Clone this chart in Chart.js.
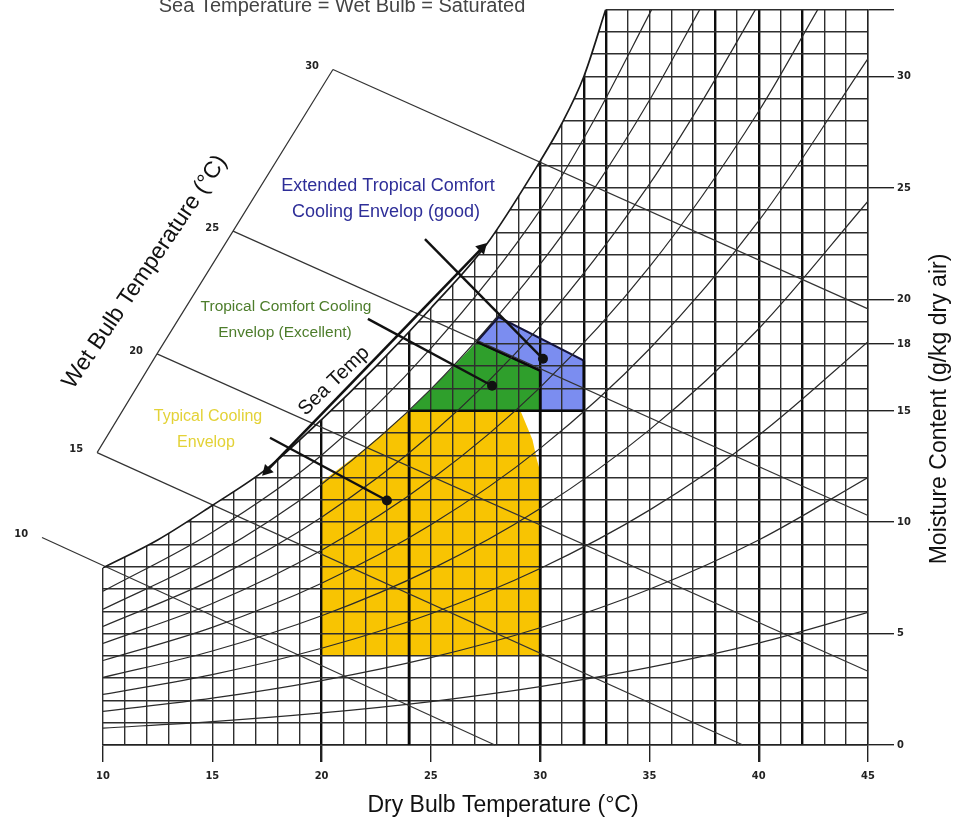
<!DOCTYPE html>
<html>
<head>
<meta charset="utf-8">
<script src="https://cdn.jsdelivr.net/npm/chart.js@4.4.1/dist/chart.umd.min.js"></script>
<style>
  html, body { margin: 0; padding: 0; background: #fff; }
  canvas { display: block; }
</style>
</head>
<body>
<canvas id="psy" width="956" height="828"></canvas>
<script>
// axis ticks
const dryBulbTicks = [10, 15, 20, 25, 30, 35, 40, 45];
const moistureTicks = [0, 5, 10, 15, 18, 20, 25, 30, 33];
const moistureLabels = [0, 5, 10, 15, 18, 20, 25, 30];
const heavyDryBulb = [20, 24, 30, 32, 33, 38, 40, 42];

// saturation curve (dry bulb °C, g/kg)
const satT = [10, 12.5, 15, 17.5, 20, 22.5, 25, 27.5, 30, 31, 32, 33];
const satW = [7.95, 9.2, 10.75, 12.4, 14.6, 17.0, 19.6, 22.4, 26.2, 27.9, 30.0, 33.0];

// relative humidity curves
const rhT = [10, 15, 20, 25, 30, 35, 40, 45];
const rh10W = [0.76, 1.05, 1.44, 1.95, 2.62, 3.48, 4.57, 5.95];
const rh20W = [1.51, 2.10, 2.89, 3.92, 5.26, 6.99, 9.20, 12.0];
const rh30W = [2.27, 3.16, 4.34, 5.89, 7.92, 10.54, 13.9, 18.1];
const rh40W = [3.03, 4.22, 5.80, 7.88, 10.61, 14.14, 18.68, 24.4];
const rh50W = [3.79, 5.28, 7.26, 9.88, 13.31, 17.77, 23.52, 30.8];
const rh60T = [10, 15, 20, 25, 30, 35, 40, 42.7];
const rh60W = [4.56, 6.35, 8.74, 11.9, 16.05, 21.45, 28.44, 33];
const rh70T = [10, 15, 20, 25, 30, 35, 37.5, 39.85];
const rh70W = [5.32, 7.42, 10.22, 13.93, 18.8, 25.17, 29.03, 33];
const rh80T = [10, 15, 20, 25, 30, 32.5, 35, 37.3];
const rh80W = [6.09, 8.49, 11.7, 15.97, 21.58, 25.0, 28.93, 33];
const rh90T = [10, 15, 20, 25, 30, 32.5, 35.1];
const rh90W = [6.9, 9.55, 13.0, 17.8, 24.0, 28.1, 33];

// wet bulb lines: start on the slanted wet bulb scale, end on the frame
const wbLabels = [10, 15, 20, 25, 30];
const wbStartT = [7.21, 9.73, 12.47, 15.95, 20.52];
const wbStartW = [9.31, 13.12, 17.55, 23.06, 30.31];
const wbEndT = [27.93, 39.28, 45, 45, 45];
const wbEndW = [0, 0, 3.31, 10.3, 19.57];

// cooling envelopes
const typicalT = [20, 20, 22, 24, 29.1, 29.65, 29.85, 30, 30, 20];
const typicalW = [4, 11.8, 13.3, 15, 15, 13.7, 12.8, 12.3, 4, 4];
const tropicalT = [24, 25, 26, 27.1, 30, 30, 24];
const tropicalW = [15, 15.95, 16.95, 18.1, 16.8, 15, 15];
const extendedT = [27.1, 28.1, 32, 32, 30, 30, 27.1];
const extendedW = [18.1, 19.2, 17.25, 15, 15, 16.8, 18.1];

// heavy frame lines below the envelopes
const frameT = [[24, 24], [30, 30], [32, 32], [24, 32], [27.1, 30]];
const frameW = [[15, 0], [16.8, 0], [17.25, 0], [15, 15], [18.1, 16.8]];

// sea temperature arrow and callouts (label end, dot end)
const seaArrowT = [17.5, 27.34];
const seaArrowW = [12.31, 22.3];
const calloutT = [[24.73, 30.13], [22.12, 27.8], [17.64, 22.99]];
const calloutW = [[22.7, 17.33], [19.12, 16.12], [13.79, 10.97]];

const pts = (xs, ys) => xs.map((x, i) => ({ x: x, y: ys[i] }));

const lineSet = (label, data, color, width, extra) => Object.assign({
  label: label,
  data: data,
  showLine: true,
  borderColor: color,
  borderWidth: width,
  pointRadius: 0,
  fill: false,
}, extra || {});

const datasets = [];

// callouts and arrow on top
calloutT.forEach((t, i) => {
  datasets.push(lineSet("callout" + i, pts(t, calloutW[i]), "#111", 2.4, {
    pointRadius: [0, 5], pointBackgroundColor: "#111", pointBorderWidth: 0
  }));
});
datasets.push(lineSet("seaTemp", pts(seaArrowT, seaArrowW), "#111", 2.6, {
  pointStyle: "triangle", pointRadius: 7, pointRotation: [224, 44],
  pointBackgroundColor: "#111", pointBorderWidth: 0, clip: false
}));

datasets.push(lineSet("saturation", pts(satT, satW), "#1a1a1a", 1.7, { cubicInterpolationMode: "monotone" }));

[[rhT, rh10W], [rhT, rh20W], [rhT, rh30W], [rhT, rh40W], [rhT, rh50W],
 [rh60T, rh60W], [rh70T, rh70W], [rh80T, rh80W], [rh90T, rh90W]].forEach((c, i) => {
  datasets.push(lineSet("rh" + (i + 1) * 10, pts(c[0], c[1]), "#2b2b2b", 1.2, { cubicInterpolationMode: "monotone" }));
});

wbLabels.forEach((wb, i) => {
  datasets.push(lineSet("wb" + wb, pts([wbStartT[i], wbEndT[i]], [wbStartW[i], wbEndW[i]]), "#333", 1.2, { clip: false }));
});
datasets.push(lineSet("wbScale", pts(wbStartT, wbStartW), "#333", 1.2, { clip: false }));

frameT.forEach((t, i) => {
  datasets.push(lineSet("frame" + i, pts(t, frameW[i]), "#0a0a0a", 2.6));
});

datasets.push(lineSet("extended", pts(extendedT, extendedW), "#14143c", 2.2, { fill: "shape", backgroundColor: "#7b8df0" }));
datasets.push(lineSet("tropical", pts(tropicalT, tropicalW), "rgba(0,0,0,0)", 0, { fill: "shape", backgroundColor: "#2f9f2c" }));
datasets.push(lineSet("typical", pts(typicalT, typicalW), "rgba(0,0,0,0)", 0, { fill: "shape", backgroundColor: "#f8c402" }));

// white out the grid above the saturation curve
const satMask = {
  id: "satMask",
  beforeDatasetsDraw(chart) {
    const idx = chart.data.datasets.findIndex(d => d.label === "saturation");
    const meta = chart.getDatasetMeta(idx);
    const p = meta.data;
    const { ctx, chartArea } = chart;
    ctx.save();
    ctx.beginPath();
    try {
      meta.dataset.updateControlPoints(chartArea, "x");
      meta.dataset.path(ctx);
    } catch (e) {
      ctx.moveTo(p[0].x, p[0].y);
      p.forEach(q => ctx.lineTo(q.x, q.y));
    }
    const last = p[p.length - 1];
    ctx.lineTo(last.x, chartArea.top - 3);
    ctx.lineTo(chartArea.left - 3, chartArea.top - 3);
    ctx.lineTo(chartArea.left - 3, p[0].y);
    ctx.closePath();
    ctx.fillStyle = "#fff";
    ctx.fill();
    ctx.restore();
  }
};

function drawText(ctx, text, x, y, font, color, angle) {
  ctx.save();
  ctx.translate(x, y);
  if (angle) ctx.rotate(angle * Math.PI / 180);
  ctx.font = font;
  ctx.fillStyle = color;
  ctx.textAlign = "center";
  ctx.textBaseline = "middle";
  ctx.fillText(text, 0, 0);
  ctx.restore();
}

const labels = {
  id: "labels",
  afterDraw(chart) {
    const ctx = chart.ctx;
    const xs = chart.scales.x, ys = chart.scales.y;
    const sans = "'Liberation Sans', Arial, sans-serif";

    // wet bulb scale numbers
    wbLabels.forEach((wb, i) => {
      const px = xs.getPixelForValue(wbStartT[i]);
      const py = ys.getPixelForValue(wbStartW[i]);
      ctx.save();
      ctx.font = "bold 11px 'DejaVu Sans Condensed', 'DejaVu Sans', sans-serif";
      ctx.fillStyle = "#222";
      ctx.textAlign = "right";
      ctx.textBaseline = "middle";
      ctx.fillText(String(wb), px - 14, py - 3);
      ctx.restore();
    });

    ctx.save();
    ctx.font = "20px " + sans;
    ctx.fillStyle = "#444";
    ctx.textAlign = "center";
    ctx.textBaseline = "alphabetic";
    ctx.fillText("Sea Temperature = Wet Bulb = Saturated", 342, 12);
    ctx.restore();

    drawText(ctx, "Extended Tropical Comfort", 388, 186, "18px " + sans, "#2e2e98");
    drawText(ctx, "Cooling Envelop (good)", 386, 212, "18px " + sans, "#2e2e98");
    drawText(ctx, "Tropical Comfort Cooling", 286, 307, "15.5px " + sans, "#4d7d2b");
    drawText(ctx, "Envelop (Excellent)", 285, 333, "15.5px " + sans, "#4d7d2b");
    drawText(ctx, "Typical Cooling", 208, 417, "16px " + sans, "#e3d237");
    drawText(ctx, "Envelop", 206, 443, "16px " + sans, "#e3d237");
    drawText(ctx, "Sea Temp", 334, 381, "20px " + sans, "#111", -44);
    drawText(ctx, "Wet Bulb Temperature (°C)", 145, 272, "23px " + sans, "#111", -56);
    drawText(ctx, "Dry Bulb Temperature (°C)", 503, 806, "23px " + sans, "#111");
    drawText(ctx, "Moisture Content (g/kg dry air)", 940, 409, "23px " + sans, "#111", -90);
  }
};

const tickFont = { family: "'DejaVu Sans Condensed', 'DejaVu Sans', sans-serif", size: 11, weight: "bold" };

new Chart(document.getElementById("psy"), {
  type: "scatter",
  data: { datasets: datasets },
  options: {
    responsive: false,
    animation: false,
    devicePixelRatio: 1,
    events: [],
    layout: { padding: { left: 103, top: 8, right: 0, bottom: 0 } },
    plugins: {
      legend: { display: false },
      tooltip: { enabled: false },
      filler: { drawTime: "beforeDraw" }
    },
    scales: {
      x: {
        type: "linear",
        min: 10,
        max: 45,
        afterFit: s => { s.height = 83; },
        border: { display: true, color: "#222", width: 1.4 },
        grid: {
          color: c => heavyDryBulb.includes(c.tick.value) ? "#0d0d0d" : "#2e2e2e",
          lineWidth: c => heavyDryBulb.includes(c.tick.value) ? 2.4 : 1.4,
          tickColor: c => dryBulbTicks.includes(c.tick.value) ? "#222" : "rgba(0,0,0,0)",
          tickLength: 17
        },
        ticks: {
          stepSize: 1,
          autoSkip: false,
          maxRotation: 0,
          padding: 8,
          color: "#222",
          font: tickFont,
          callback: v => dryBulbTicks.includes(v) ? String(v) : ""
        }
      },
      y: {
        type: "linear",
        position: "right",
        min: 0,
        max: 33,
        afterFit: s => { s.width = 88; },
        border: { display: true, color: "#222", width: 1.4 },
        grid: {
          color: "#2e2e2e",
          lineWidth: 1.4,
          tickColor: c => moistureTicks.includes(c.tick.value) ? "#222" : "rgba(0,0,0,0)",
          tickLength: 26
        },
        ticks: {
          stepSize: 1,
          autoSkip: false,
          padding: 3,
          color: "#222",
          font: tickFont,
          callback: v => moistureLabels.includes(v) ? String(v) : ""
        }
      }
    }
  },
  plugins: [satMask, labels]
});
</script>
</body>
</html>
